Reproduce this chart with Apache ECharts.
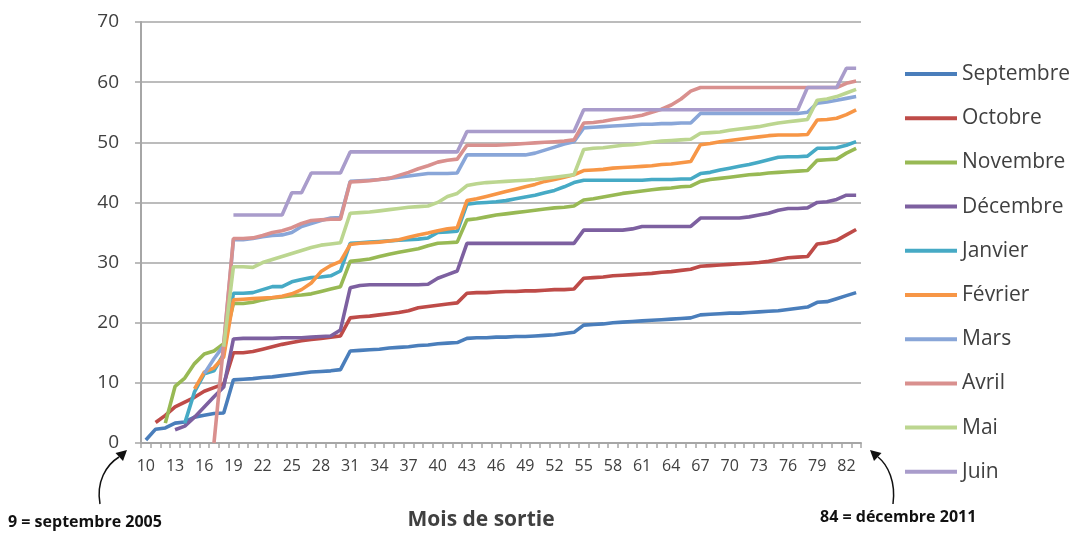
<!DOCTYPE html>
<html><head><meta charset="utf-8">
<script src="https://cdn.jsdelivr.net/npm/echarts@6/dist/echarts.min.js"></script>
<style>html,body{margin:0;padding:0;background:#fff}#c{width:1072px;height:534px}</style>
</head><body><div id="c"></div>
<script>
const categories = ['10','11','12','13','14','15','16','17','18','19','20','21','22','23','24','25','26','27','28','29','30','31','32','33','34','35','36','37','38','39','40','41','42','43','44','45','46','47','48','49','50','51','52','53','54','55','56','57','58','59','60','61','62','63','64','65','66','67','68','69','70','71','72','73','74','75','76','77','78','79','80','81','82','83'];
const yTicks = [0,10,20,30,40,50,60,70];
const seriesNames = ['Septembre','Octobre','Novembre','Décembre','Janvier','Février','Mars','Avril','Mai','Juin'];
const seriesColors = ['#4A7EBB','#BE4B48','#98B954','#7D60A0','#46AAC5','#F79646','#89A6D8','#D9908E','#BCD690','#A99CCB'];
const N = null;
const septembre = [0.5,2.3,2.5,3.3,3.5,4.3,4.6,4.9,5.0,10.5,
 10.6,10.7,10.9,11.0,11.2,11.4,11.6,11.8,11.9,12.0,
 12.2,15.3,15.4,15.5,15.6,15.8,15.9,16.0,16.2,16.3,
 16.5,16.6,16.7,17.4,17.5,17.5,17.6,17.6,17.7,17.7,
 17.8,17.9,18.0,18.2,18.4,19.6,19.7,19.8,20.0,20.1,
 20.2,20.3,20.4,20.5,20.6,20.7,20.8,21.3,21.4,21.5,
 21.6,21.6,21.7,21.8,21.9,22.0,22.2,22.4,22.6,23.4,
 23.5,24.0,24.5,25.0];
const octobre = [N,3.4,4.6,6.0,6.8,7.6,8.6,9.2,9.8,15.0,
 15.0,15.2,15.6,16.0,16.4,16.7,17.0,17.2,17.4,17.6,
 17.8,20.8,21.0,21.1,21.3,21.5,21.7,22.0,22.5,22.7,
 22.9,23.1,23.3,24.9,25.0,25.0,25.1,25.2,25.2,25.3,
 25.3,25.4,25.5,25.5,25.6,27.4,27.5,27.6,27.8,27.9,
 28.0,28.1,28.2,28.4,28.5,28.7,28.9,29.4,29.5,29.6,
 29.7,29.8,29.9,30.0,30.2,30.5,30.8,30.9,31.0,33.1,
 33.3,33.7,34.6,35.5];
const novembre = [N,N,3.3,9.4,10.8,13.2,14.8,15.3,16.5,23.2,
 23.2,23.4,23.8,24.1,24.3,24.5,24.6,24.8,25.2,25.6,
 26.0,30.2,30.4,30.6,31.0,31.4,31.7,32.0,32.3,32.8,
 33.2,33.3,33.4,37.1,37.3,37.6,37.9,38.1,38.3,38.5,
 38.7,38.9,39.1,39.2,39.4,40.4,40.6,40.9,41.2,41.5,
 41.7,41.9,42.1,42.3,42.4,42.6,42.7,43.5,43.8,44.0,
 44.2,44.4,44.6,44.7,44.9,45.0,45.1,45.2,45.3,47.0,
 47.1,47.2,48.2,49.0];
const decembre = [N,N,N,2.2,2.8,4.3,6.0,7.7,9.3,17.3,
 17.4,17.4,17.4,17.4,17.5,17.5,17.5,17.6,17.7,17.8,
 18.8,25.8,26.2,26.3,26.3,26.3,26.3,26.3,26.3,26.4,
 27.4,28.0,28.6,33.2,33.2,33.2,33.2,33.2,33.2,33.2,
 33.2,33.2,33.2,33.2,33.2,35.4,35.4,35.4,35.4,35.4,
 35.6,36.0,36.0,36.0,36.0,36.0,36.0,37.4,37.4,37.4,
 37.4,37.4,37.6,37.9,38.2,38.7,39.0,39.0,39.1,40.0,
 40.1,40.5,41.2,41.2];
const janvier = [N,N,N,N,3.3,8.5,11.5,12.0,14.8,24.9,
 24.9,25.0,25.5,26.0,26.0,26.8,27.2,27.5,27.6,27.8,
 28.6,33.2,33.3,33.4,33.5,33.6,33.7,33.8,33.9,34.1,
 35.0,35.1,35.2,39.7,39.9,40.0,40.1,40.3,40.6,40.9,
 41.2,41.6,42.0,42.6,43.3,43.7,43.7,43.7,43.7,43.7,
 43.7,43.7,43.8,43.8,43.8,43.9,43.9,44.8,45.0,45.4,
 45.7,46.0,46.3,46.7,47.1,47.5,47.6,47.6,47.7,49.0,
 49.0,49.1,49.5,50.1];
const fevrier = [N,N,N,N,N,9.0,11.8,12.5,14.3,23.8,
 23.9,24.0,24.1,24.2,24.4,24.8,25.5,26.6,28.5,29.5,
 30.2,33.0,33.2,33.3,33.4,33.6,33.8,34.2,34.6,34.9,
 35.3,35.6,35.8,40.3,40.6,41.0,41.4,41.8,42.2,42.6,
 43.0,43.5,43.8,44.2,44.6,45.3,45.4,45.5,45.7,45.8,
 45.9,46.0,46.1,46.3,46.4,46.6,46.8,49.6,49.8,50.1,
 50.3,50.5,50.7,50.9,51.1,51.2,51.2,51.2,51.3,53.7,
 53.8,54.0,54.6,55.4];
const mars = [N,N,N,N,N,N,11.5,14.0,16.2,33.8,
 33.8,34.0,34.3,34.5,34.6,35.0,36.0,36.5,37.0,37.4,
 37.5,43.5,43.6,43.7,43.8,44.0,44.2,44.4,44.6,44.8,
 44.8,44.8,44.9,47.9,47.9,47.9,47.9,47.9,47.9,47.9,
 48.2,48.7,49.2,49.7,50.1,52.4,52.5,52.6,52.7,52.8,
 52.9,53.0,53.0,53.1,53.1,53.2,53.2,54.8,54.8,54.8,
 54.8,54.8,54.8,54.8,54.8,54.8,54.8,54.8,55.0,56.5,
 56.7,57.0,57.3,57.6];
const avril = [N,N,N,N,N,N,N,0,16.5,34.0,
 34.0,34.1,34.5,35.0,35.3,35.8,36.5,37.0,37.1,37.2,
 37.2,43.4,43.5,43.6,43.8,44.0,44.5,45.0,45.6,46.1,
 46.7,47.0,47.2,49.5,49.5,49.5,49.5,49.6,49.7,49.8,
 49.9,50.0,50.1,50.2,50.4,53.2,53.3,53.5,53.8,54.0,
 54.2,54.5,55.0,55.5,56.2,57.2,58.5,59.1,59.1,59.1,
 59.1,59.1,59.1,59.1,59.1,59.1,59.1,59.1,59.1,59.1,
 59.1,59.1,59.8,60.2];
const mai = [N,N,N,N,N,N,N,N,16.0,29.3,
 29.3,29.2,30.0,30.5,31.0,31.5,32.0,32.5,32.9,33.1,
 33.3,38.2,38.3,38.4,38.6,38.8,39.0,39.2,39.3,39.4,
 40.0,41.0,41.5,42.8,43.1,43.3,43.4,43.5,43.6,43.7,
 43.8,44.0,44.2,44.4,44.6,48.8,49.0,49.1,49.3,49.5,
 49.6,49.8,50.0,50.2,50.3,50.4,50.5,51.5,51.6,51.7,
 52.0,52.2,52.4,52.6,52.9,53.2,53.4,53.6,53.8,57.0,
 57.2,57.6,58.2,58.8];
const juin = [N,N,N,N,N,N,N,N,N,37.9,
 37.9,37.9,37.9,37.9,37.9,41.6,41.6,44.9,44.9,44.9,
 44.9,48.4,48.4,48.4,48.4,48.4,48.4,48.4,48.4,48.4,
 48.4,48.4,48.4,51.8,51.8,51.8,51.8,51.8,51.8,51.8,
 51.8,51.8,51.8,51.8,51.8,55.4,55.4,55.4,55.4,55.4,
 55.4,55.4,55.4,55.4,55.4,55.4,55.4,55.4,55.4,55.4,
 55.4,55.4,55.4,55.4,55.4,55.4,55.4,55.4,59.1,59.1,
 59.1,59.1,62.3,62.3];
const allData = [septembre,octobre,novembre,decembre,janvier,fevrier,mars,avril,mai,juin];

const chart = echarts.init(document.getElementById('c'), null, {renderer:'canvas'});
const FONT = "'Open Sans', 'Liberation Sans', sans-serif";
const series = seriesNames.map((name, i) => ({
  name: name, type: 'line', data: allData[i], symbol: 'none', connectNulls: false,
  lineStyle: {width: 3.6, color: seriesColors[i]}, itemStyle: {color: seriesColors[i]},
  animation: false
}));
chart.setOption({
  animation: false,
  backgroundColor: '#ffffff',
  grid: {left: 141, right: 211, top: 22, bottom: 91, containLabel: false},
  xAxis: {
    type: 'category', data: categories, boundaryGap: true,
    axisLine: {show: true, lineStyle: {color: '#A6A6A6', width: 2}},
    axisTick: {show: true, interval: 0, length: 5, lineStyle: {color: '#A6A6A6', width: 1.5}},
    axisLabel: {interval: 2, margin: 15, fontSize: 16, color: '#404040', fontFamily: FONT},
    splitLine: {show: false}
  },
  yAxis: {
    type: 'value', min: yTicks[0], max: yTicks[yTicks.length-1], interval: 10,
    axisLine: {show: true, lineStyle: {color: '#A6A6A6', width: 2}},
    axisTick: {show: true, length: 6, lineStyle: {color: '#A6A6A6', width: 1.5}},
    axisLabel: {margin: 22, fontSize: 19, color: '#404040', fontFamily: FONT},
    splitLine: {show: true, lineStyle: {color: '#A6A6A6', width: 1.5}}
  },
  legend: {
    orient: 'vertical', left: 905, top: 63, padding: 0, itemWidth: 52, itemHeight: 4, itemGap: 22.2,
    itemTextGap: 1, icon: 'rect',
    textStyle: {fontSize: 21, color: '#404040', fontFamily: FONT, lineHeight: 22},
    data: seriesNames
  },
  graphic: [
    {type: 'text', x: 481, y: 520, style: {text: 'Mois de sortie', font: "bold 21px 'Open Sans', sans-serif", fill: '#404040', textAlign: 'center', textVerticalAlign: 'middle'}},
    {type: 'text', x: 8, y: 522, style: {text: '9 = septembre 2005', font: "bold 16px 'Open Sans', sans-serif", fill: '#111', textAlign: 'left', textVerticalAlign: 'middle'}},
    {type: 'text', x: 820, y: 517, style: {text: '84 = décembre 2011', font: "bold 16px 'Open Sans', sans-serif", fill: '#111', textAlign: 'left', textVerticalAlign: 'middle'}},
    {type: 'bezierCurve', shape: {x1: 100, y1: 504, cpx1: 96, cpy1: 482, cpx2: 106, cpy2: 465, x2: 119, y2: 457}, style: {stroke: '#111', lineWidth: 1.5, fill: null}},
    {type: 'polygon', shape: {points: [[127,450],[115.5,453],[123,461]]}, style: {fill: '#111'}},
    {type: 'bezierCurve', shape: {x1: 893, y1: 504, cpx1: 896, cpy1: 482, cpx2: 888, cpy2: 465, x2: 878, y2: 457}, style: {stroke: '#111', lineWidth: 1.5, fill: null}},
    {type: 'polygon', shape: {points: [[870,450],[881.5,453],[874,461]]}, style: {fill: '#111'}}
  ],
  series: series
});
</script></body></html>
